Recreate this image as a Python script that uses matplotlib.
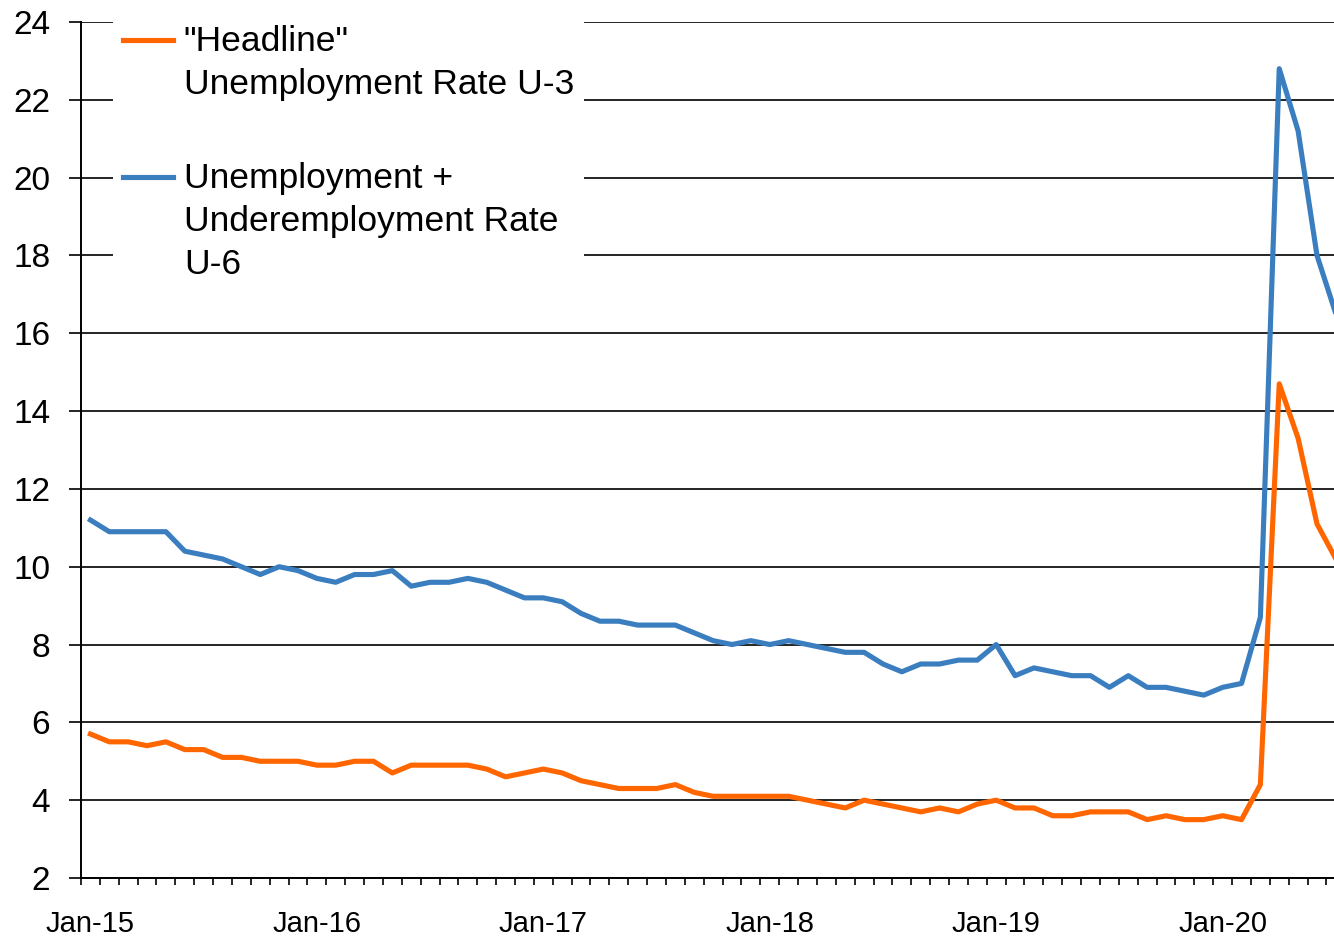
import matplotlib
matplotlib.use("Agg")
import matplotlib.pyplot as plt
import numpy as np

plt.rcParams['font.family'] = ['Liberation Sans', 'DejaVu Sans']

# ---- data (monthly, Jan-2015 .. Jul-2020) ----
month_names = ["Jan", "Feb", "Mar", "Apr", "May", "Jun",
               "Jul", "Aug", "Sep", "Oct", "Nov", "Dec"]
categories = [f"{m}-{y}" for y in range(15, 21) for m in month_names][:67]

u3 = [5.7, 5.5, 5.5, 5.4, 5.5, 5.3, 5.3, 5.1, 5.1, 5.0, 5.0, 5.0,
      4.9, 4.9, 5.0, 5.0, 4.7, 4.9, 4.9, 4.9, 4.9, 4.8, 4.6, 4.7,
      4.8, 4.7, 4.5, 4.4, 4.3, 4.3, 4.3, 4.4, 4.2, 4.1, 4.1, 4.1,
      4.1, 4.1, 4.0, 3.9, 3.8, 4.0, 3.9, 3.8, 3.7, 3.8, 3.7, 3.9,
      4.0, 3.8, 3.8, 3.6, 3.6, 3.7, 3.7, 3.7, 3.5, 3.6, 3.5, 3.5,
      3.6, 3.5, 4.4, 14.7, 13.3, 11.1, 10.2]

u6 = [11.2, 10.9, 10.9, 10.9, 10.9, 10.4, 10.3, 10.2, 10.0, 9.8, 10.0, 9.9,
      9.7, 9.6, 9.8, 9.8, 9.9, 9.5, 9.6, 9.6, 9.7, 9.6, 9.4, 9.2,
      9.2, 9.1, 8.8, 8.6, 8.6, 8.5, 8.5, 8.5, 8.3, 8.1, 8.0, 8.1,
      8.0, 8.1, 8.0, 7.9, 7.8, 7.8, 7.5, 7.3, 7.5, 7.5, 7.6, 7.6,
      8.0, 7.2, 7.4, 7.3, 7.2, 7.2, 6.9, 7.2, 6.9, 6.9, 6.8, 6.7,
      6.9, 7.0, 8.7, 22.8, 21.2, 18.0, 16.5]

tick_labels = ["Jan-15", "Jan-16", "Jan-17", "Jan-18", "Jan-19", "Jan-20"]
y_ticks = [2, 4, 6, 8, 10, 12, 14, 16, 18, 20, 22, 24]

label_u3 = '"Headline"\nUnemployment Rate U-3'
label_u6 = 'Unemployment +\nUnderemployment Rate\nU-6'

# ---- figure ----
W, H = 1334, 936
fig = plt.figure(figsize=(W / 100, H / 100), dpi=100)
step = 18.87
ax = fig.add_axes([81 / W, 58 / H, 67 * step / W, 856 / H])

x = np.arange(len(categories))
ax.plot(x, u3, color='#FF6600', lw=3.7, label=label_u3, solid_joinstyle='round')
ax.plot(x, u6, color='#3A7EC0', lw=3.7, label=label_u6, solid_joinstyle='round')

ax.set_xlim(-0.5, len(categories) - 0.5)
ax.set_ylim(2, 24)

# grid
ax.set_yticks(y_ticks)
ax.yaxis.grid(True, color='black', lw=1.2)
ax.set_axisbelow(True)
ax.tick_params(axis='y', direction='out', length=8.6, width=1.2, pad=13.5,
               labelsize=24, colors='black')

# x ticks: marks at category boundaries, labels at Jan positions
ax.set_xticks(np.arange(len(categories) + 1) - 0.5)
ax.set_xticklabels([])
ax.set_xticks([categories.index(t) for t in tick_labels], minor=True)
ax.set_xticklabels(tick_labels, minor=True)
ax.tick_params(axis='x', which='major', direction='out', length=5, width=1.2)
ax.tick_params(axis='x', which='minor', length=0, pad=23, labelsize=21)

for s in ['top', 'right']:
    ax.spines[s].set_visible(False)
for s in ['left', 'bottom']:
    ax.spines[s].set_color('black')
    ax.spines[s].set_linewidth(1.4)

leg = ax.legend(loc='upper left', bbox_to_anchor=(113 / W, 1 - 15 / H),
                bbox_transform=fig.transFigure, borderaxespad=0,
                frameon=True, facecolor='white', edgecolor='none', framealpha=1,
                fancybox=False, fontsize=25.5, handlelength=1.42,
                handletextpad=0.3, borderpad=0.28, labelspacing=1.74,
                handleheight=1.2)
leg.get_frame().set_linewidth(0)
# align handles with the first text line
for col in leg._legend_handle_box.get_children():
    for hp in col.get_children():
        hp.align = 'top'
for t in leg.get_texts():
    t.set_linespacing(1.38)

fig.savefig('out.png', dpi=100)
